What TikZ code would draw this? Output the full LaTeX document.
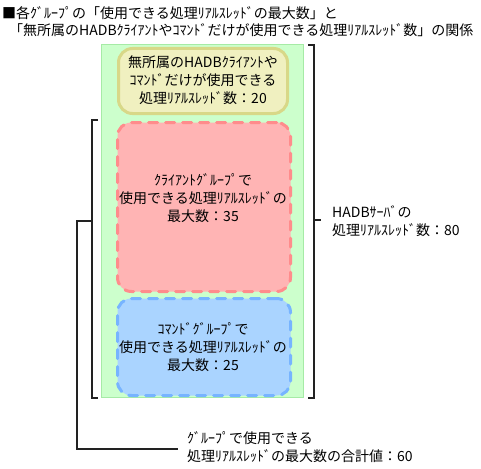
\documentclass[tikz,border=0pt]{standalone}
\usepackage{fontspec}
\setmainfont{Noto Sans CJK JP}
\definecolor{grnfill}{HTML}{CCFFCC}
\definecolor{grnline}{HTML}{A6EBA6}
\definecolor{yelfill}{HTML}{F0F0C0}
\definecolor{yelline}{HTML}{D8D888}
\definecolor{redfill}{HTML}{FFB4B4}
\definecolor{redline}{HTML}{FF8C8C}
\definecolor{blufill}{HTML}{AAD4FF}
\definecolor{bluline}{HTML}{77B4FF}
\definecolor{ink}{HTML}{222222}
\tikzset{
  box/.style={rectangle, inner sep=0pt, line width=3pt},
  dashbox/.style={box, dash pattern=on 9pt off 8pt, line cap=round, rounded corners=14pt},
  txt/.style={inner sep=0pt, align=center, font=\fontsize{14}{18}\selectfont, text=black},
  ltxt/.style={inner sep=0pt, align=left, anchor=west, font=\fontsize{14}{18}\selectfont, text=black},
  brk/.style={draw=ink, line width=1.1pt},
}
\begin{document}
\begin{tikzpicture}[x=1pt,y=-1pt]
\useasboundingbox (0,0) rectangle (481,468);
% title
\node[ltxt] (t1) at (2,13) {■各ｸﾞﾙｰﾌﾟの「使用できる処理ﾘｱﾙｽﾚｯﾄﾞの最大数」と};
\node[ltxt] (t2) at (9,30) {「無所属のHADBｸﾗｲｱﾝﾄやｺﾏﾝﾄﾞだけが使用できる処理ﾘｱﾙｽﾚｯﾄﾞ数」の関係};
% green area
\node[rectangle, draw=grnline, fill=grnfill, line width=1pt, minimum width=202pt, minimum height=353pt, inner sep=0pt] (grn) at (202.5,221) {};
% yellow
\node[box, draw=yelline, fill=yelfill, rounded corners=14pt, minimum width=169pt, minimum height=65pt] (yb) at (203,81) {};
\node[txt] (yt) at (203,80) {無所属のHADBｸﾗｲｱﾝﾄや\\ｺﾏﾝﾄﾞだけが使用できる\\処理ﾘｱﾙｽﾚｯﾄﾞ数：20};
% red
\node[dashbox, draw=redline, fill=redfill, minimum width=173pt, minimum height=169pt] (rb) at (204,207) {};
\node[txt] (rt) at (203,198) {ｸﾗｲｱﾝﾄｸﾞﾙｰﾌﾟで\\使用できる処理ﾘｱﾙｽﾚｯﾄﾞの\\最大数：35};
% blue
\node[dashbox, draw=bluline, fill=blufill, minimum width=173pt, minimum height=97pt] (bb) at (204,347) {};
\node[txt] (bt) at (203,347) {ｺﾏﾝﾄﾞｸﾞﾙｰﾌﾟで\\使用できる処理ﾘｱﾙｽﾚｯﾄﾞの\\最大数：25};
% right bracket
\coordinate (r1) at (308,45);
\coordinate (r2) at (314,45);
\coordinate (r3) at (314,398);
\coordinate (r4) at (308,398);
\coordinate (rm) at (314,220);
\coordinate (rm2) at (321,220);
\draw[brk] (r1) -- (r2) -- (r3) -- (r4);
\draw[brk] (rm) -- (rm2);
\node[ltxt] (rl) at (332,221) {HADBｻｰﾊﾞの\\処理ﾘｱﾙｽﾚｯﾄﾞ数：80};
% left bracket
\coordinate (l1) at (98,120);
\coordinate (l2) at (92,120);
\coordinate (l3) at (92,398);
\coordinate (l4) at (98,398);
\coordinate (lm) at (92,221);
\coordinate (lc1) at (77,221);
\coordinate (lc2) at (77,449);
\coordinate (lc3) at (178,449);
\draw[brk] (l1) -- (l2) -- (l3) -- (l4);
\draw[brk] (lm) -- (lc1) -- (lc2) -- (lc3);
\node[ltxt] (bl) at (187,447) {ｸﾞﾙｰﾌﾟで使用できる\\処理ﾘｱﾙｽﾚｯﾄﾞの最大数の合計値：60};
\end{tikzpicture}
\end{document}
